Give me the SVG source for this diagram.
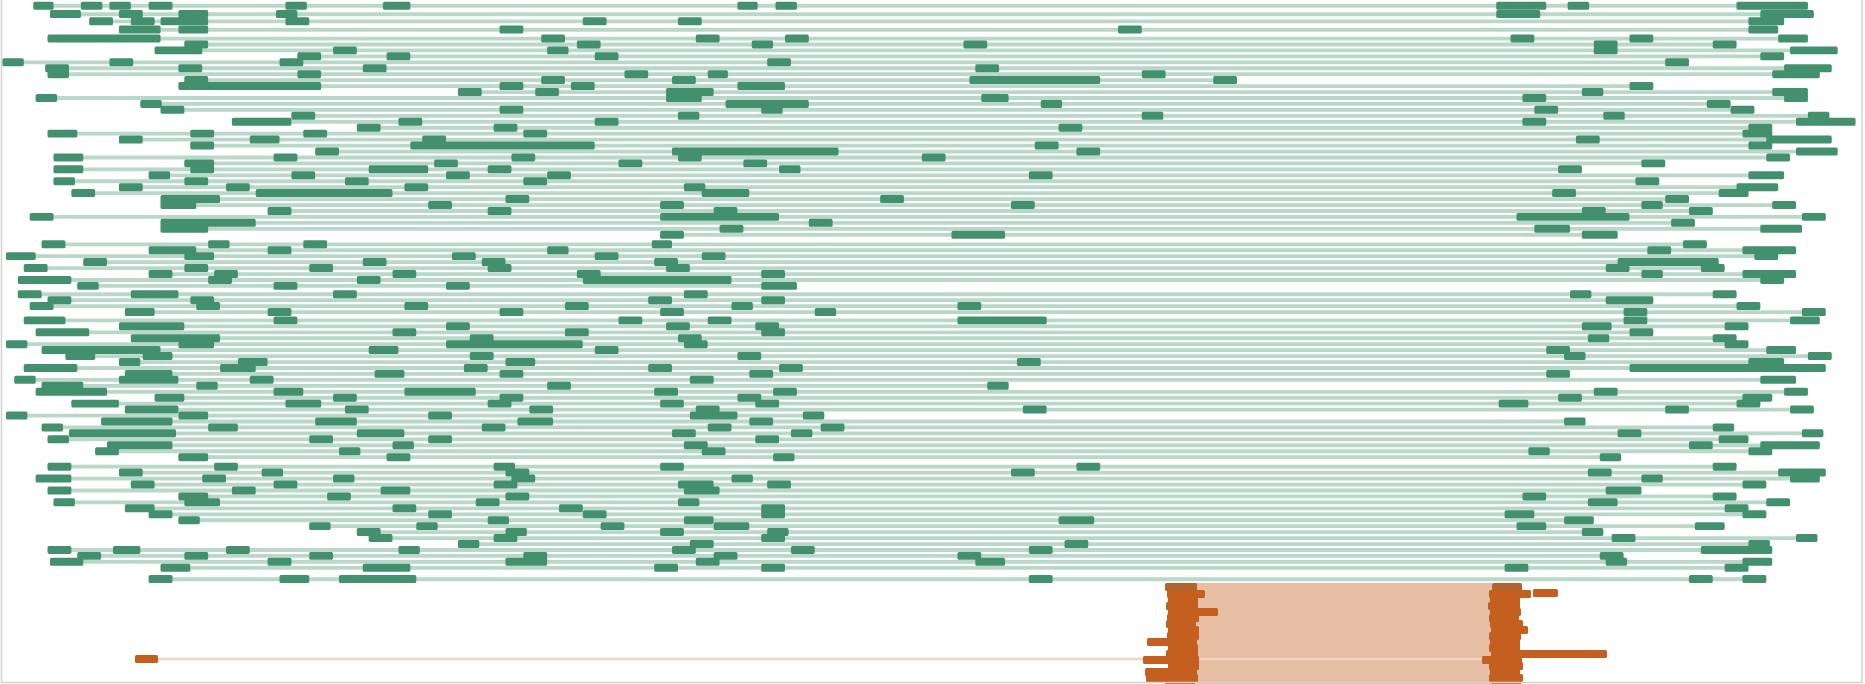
<svg xmlns="http://www.w3.org/2000/svg" width="1865" height="684" viewBox="0 0 1865 684">
<style>
.rd rect{fill:#43906e;height:6.7px;rx:1.3px}
.gl{fill:none;stroke:#bad8ca;stroke-width:3.2}
.ob rect{fill:#c45f1f;height:8px;rx:1.5px}
</style>
<rect width="1865" height="684" fill="#ffffff"/>
<g id="connectors">
<path class="gl" transform="scale(1.1894)" d="M28 4.85H1520M42 12H1525M75 18H1500M100 25H1495M40 32.4H1520M155 37.4H1460M130 42.4H1545M250 47.4H1500M2 52.4H1420M38 57.4H1540M40 62.4H1530M155 67.4H1040M150 72.4H1390M385 77.4H1520M30 82.4H1520M118 87.4H1455M135 92.4H1475M245 97.4H1538M195 102.4H1560M300 107.4H1490M40 112.4H1490M100 117.4H1540M160 122.4H1490M265 127.4H1545M45 132.4H1505M155 137.4H1400M45 142.4H1330M125 147.4H1500M45 152.4H1395M100 157.4H1495M60 162.4H1470M135 167.4H1420M135 172.4H1510M225 177.4H1440M25 182.4H1535M135 187.4H1425M135 192.4H1515M555 197.4H1360M35 205.4H1435M125 210.4H1510M5 215.4H1495M70 220.4H1445M20 225.4H1450M125 230.4H1510M15 235.4H1500M65 240.4H670M15 247.4H1460M40 252.4H1390M25 257.4H1480M105 262.4H1535M20 269.4H1530M100 274.4H1470M30 279.4H1390M110 284.4H1460M5 289.4H1470M35 294.4H1510M55 299.4H1540M100 304.4H1500M20 309.4H1535M105 314.4H1320M12 319.4H1510M35 324.4H848M30 329.4H1520M130 334.4H1490M60 339.4H1480M105 344.4H1525M5 349.4H693M85 354.4H1333M35 359.4H1458M58 364.4H1533M40 369.4H1470M90 374.4H1530M80 379.4H1490M150 384.4H1363M40 392.4H1460M100 397.4H1535M30 402.4H1530M110 407.4H1485M40 412.4H1380M150 417.4H1460M45 422.4H1505M105 427.4H1470M125 432.4H1485M150 437.4H1340M260 442.4H1450M300 447.4H1348M310 452.4H1528M385 457.4H1488M40 462.4H1490M65 467.4H1365M42 472.4H1490M135 477.4H1470M125 487H1485"/>
<rect id="junction" x="1196" y="583" width="296" height="101" fill="#e6bea3"/>
<path d="M150 659H1484" fill="none" stroke="#f1d3c0" stroke-width="2.5"/>
</g>
<g class="ob" id="orange-reads">
<rect x="135" y="655" width="23"/>
<rect x="1165" y="583" width="32" style="fill:#b0642e"/>
<rect x="1167" y="590" width="38"/>
<rect x="1168" y="596" width="30"/>
<rect x="1166" y="602" width="32"/>
<rect x="1168" y="608" width="50"/>
<rect x="1167" y="614" width="32"/>
<rect x="1166" y="620" width="30"/>
<rect x="1168" y="626" width="31"/>
<rect x="1167" y="632" width="32"/>
<rect x="1147" y="638" width="50"/>
<rect x="1168" y="644" width="30"/>
<rect x="1166" y="650" width="32"/>
<rect x="1143" y="656" width="56"/>
<rect x="1168" y="662" width="31"/>
<rect x="1145" y="668" width="52"/>
<rect x="1146" y="674" width="52"/>
<rect x="1165" y="680" width="30"/>
<rect x="1492" y="583" width="30" style="fill:#b0642e"/>
<rect x="1533" y="589" width="25"/>
<rect x="1489" y="590" width="42"/>
<rect x="1490" y="596" width="30"/>
<rect x="1488" y="602" width="32"/>
<rect x="1490" y="608" width="31"/>
<rect x="1489" y="614" width="30"/>
<rect x="1490" y="620" width="33"/>
<rect x="1491" y="626" width="37"/>
<rect x="1489" y="632" width="32"/>
<rect x="1490" y="638" width="30"/>
<rect x="1489" y="644" width="31"/>
<rect x="1491" y="650" width="116"/>
<rect x="1482" y="656" width="40"/>
<rect x="1489" y="662" width="34"/>
<rect x="1490" y="668" width="30"/>
<rect x="1489" y="674" width="34"/>
<rect x="1491" y="680" width="30"/>
</g>
<g class="rd" id="reads" transform="scale(1.1894)">
<g id="r1" transform="translate(0,1.5)"><rect x="28" width="17"/><rect x="68" width="18"/><rect x="92" width="18"/><rect x="125" width="20"/><rect x="240" width="18"/><rect x="322" width="23"/><rect x="620" width="17"/><rect x="652" width="18"/><rect x="1258" width="42"/><rect x="1318" width="18"/><rect x="1460" width="60"/></g>
<g id="r2" transform="translate(0,8.5)"><rect x="42" width="26"/><rect x="100" width="20"/><rect x="150" width="25"/><rect x="232" width="18"/><rect x="1258" width="37"/><rect x="1480" width="45"/></g>
<g id="r3" transform="translate(0,14.5)"><rect x="75" width="20"/><rect x="110" width="20"/><rect x="135" width="40"/><rect x="240" width="20"/><rect x="490" width="20"/><rect x="570" width="20"/><rect x="1470" width="30"/></g>
<g id="r4" transform="translate(0,21.5)"><rect x="100" width="35"/><rect x="150" width="25"/><rect x="420" width="20"/><rect x="940" width="20"/><rect x="1470" width="25"/></g>
<g id="r5" transform="translate(0,29)"><rect x="40" width="95"/><rect x="455" width="20"/><rect x="585" width="20"/><rect x="660" width="20"/><rect x="1270" width="20"/><rect x="1370" width="20"/><rect x="1495" width="25"/><rect y="5" x="155" width="20"/><rect y="5" x="485" width="20"/><rect y="5" x="632" width="18"/><rect y="5" x="810" width="20"/><rect y="5" x="1340" width="20"/><rect y="5" x="1440" width="20"/></g>
<g id="r6" transform="translate(0,39)"><rect x="130" width="40"/><rect x="280" width="20"/><rect x="460" width="18"/><rect x="1340" width="20"/><rect x="1505" width="40"/><rect y="5" x="250" width="20"/><rect y="5" x="325" width="20"/><rect y="5" x="500" width="20"/><rect y="5" x="1480" width="20"/></g>
<g id="r7" transform="translate(0,49)"><rect x="2" width="18"/><rect x="92" width="20"/><rect x="235" width="20"/><rect x="645" width="20"/><rect x="1400" width="20"/><rect y="5" x="38" width="20"/><rect y="5" x="150" width="20"/><rect y="5" x="305" width="20"/><rect y="5" x="820" width="20"/><rect y="5" x="1500" width="40"/></g>
<g id="r8" transform="translate(0,59)"><rect x="40" width="18"/><rect x="250" width="20"/><rect x="525" width="20"/><rect x="595" width="17"/><rect x="960" width="20"/><rect x="1490" width="40"/><rect y="5" x="155" width="20"/><rect y="5" x="455" width="20"/><rect y="5" x="565" width="20"/><rect y="5" x="815" width="110"/><rect y="5" x="1020" width="20"/></g>
<g id="r9" transform="translate(0,69)"><rect x="150" width="120"/><rect x="420" width="20"/><rect x="480" width="20"/><rect x="620" width="40"/><rect x="1370" width="20"/><rect y="5" x="385" width="20"/><rect y="5" x="450" width="20"/><rect y="5" x="560" width="40"/><rect y="5" x="1330" width="18"/><rect y="5" x="1490" width="30"/></g>
<g id="r10" transform="translate(0,79)"><rect x="30" width="18"/><rect x="560" width="30"/><rect x="825" width="23"/><rect x="1280" width="20"/><rect x="1500" width="20"/><rect y="5" x="118" width="18"/><rect y="5" x="610" width="70"/><rect y="5" x="875" width="18"/><rect y="5" x="1435" width="20"/></g>
<g id="r11" transform="translate(0,89)"><rect x="135" width="20"/><rect x="420" width="20"/><rect x="640" width="18"/><rect x="1290" width="20"/><rect x="1455" width="20"/><rect y="5" x="245" width="20"/><rect y="5" x="570" width="18"/><rect y="5" x="960" width="18"/><rect y="5" x="1348" width="18"/><rect y="5" x="1520" width="18"/></g>
<g id="r12" transform="translate(0,99)"><rect x="195" width="50"/><rect x="335" width="20"/><rect x="500" width="20"/><rect x="1280" width="20"/><rect x="1510" width="50"/><rect y="5" x="300" width="20"/><rect y="5" x="415" width="20"/><rect y="5" x="890" width="20"/><rect y="5" x="1470" width="20"/></g>
<g id="r13" transform="translate(0,109)"><rect x="40" width="25"/><rect x="160" width="20"/><rect x="255" width="20"/><rect x="440" width="20"/><rect x="1465" width="25"/><rect y="5" x="100" width="20"/><rect y="5" x="210" width="25"/><rect y="5" x="355" width="20"/><rect y="5" x="1325" width="20"/><rect y="5" x="1485" width="55"/></g>
<g id="r14" transform="translate(0,119)"><rect x="160" width="20"/><rect x="345" width="155"/><rect x="870" width="20"/><rect x="1470" width="20"/><rect y="5" x="265" width="20"/><rect y="5" x="565" width="140"/><rect y="5" x="905" width="20"/><rect y="5" x="1510" width="35"/></g>
<g id="r15" transform="translate(0,129)"><rect x="45" width="25"/><rect x="230" width="20"/><rect x="430" width="20"/><rect x="570" width="20"/><rect x="775" width="20"/><rect x="1485" width="20"/><rect y="5" x="155" width="25"/><rect y="5" x="365" width="20"/><rect y="5" x="520" width="20"/><rect y="5" x="625" width="20"/><rect y="5" x="1380" width="20"/></g>
<g id="r16" transform="translate(0,139)"><rect x="45" width="25"/><rect x="160" width="20"/><rect x="310" width="50"/><rect x="410" width="20"/><rect x="655" width="18"/><rect x="1310" width="20"/><rect y="5" x="125" width="18"/><rect y="5" x="245" width="20"/><rect y="5" x="375" width="20"/><rect y="5" x="460" width="20"/><rect y="5" x="865" width="20"/><rect y="5" x="1470" width="30"/></g>
<g id="r17" transform="translate(0,149)"><rect x="45" width="18"/><rect x="155" width="20"/><rect x="290" width="20"/><rect x="440" width="20"/><rect x="1375" width="20"/><rect y="5" x="100" width="20"/><rect y="5" x="190" width="20"/><rect y="5" x="340" width="20"/><rect y="5" x="575" width="18"/><rect y="5" x="1460" width="35"/></g>
<g id="r18" transform="translate(0,159)"><rect x="60" width="20"/><rect x="215" width="115"/><rect x="590" width="40"/><rect x="1305" width="20"/><rect x="1445" width="25"/><rect y="5" x="135" width="50"/><rect y="5" x="425" width="20"/><rect y="5" x="740" width="20"/><rect y="5" x="1400" width="20"/></g>
<g id="r19" transform="translate(0,169)"><rect x="135" width="30"/><rect x="360" width="20"/><rect x="555" width="20"/><rect x="850" width="20"/><rect x="1380" width="18"/><rect x="1490" width="20"/><rect y="5" x="225" width="20"/><rect y="5" x="410" width="20"/><rect y="5" x="600" width="20"/><rect y="5" x="1330" width="20"/><rect y="5" x="1420" width="20"/></g>
<g id="r20" transform="translate(0,179)"><rect x="25" width="20"/><rect x="555" width="100"/><rect x="1275" width="95"/><rect x="1515" width="20"/><rect y="5" x="135" width="80"/><rect y="5" x="680" width="20"/><rect y="5" x="1405" width="20"/></g>
<g id="r21" transform="translate(0,189)"><rect x="135" width="40"/><rect x="605" width="20"/><rect x="1290" width="30"/><rect x="1480" width="35"/><rect y="5" x="555" width="20"/><rect y="5" x="800" width="45"/><rect y="5" x="1330" width="30"/></g>
<g id="r22" transform="translate(0,202)"><rect x="35" width="20"/><rect x="175" width="18"/><rect x="255" width="20"/><rect x="548" width="17"/><rect x="1415" width="20"/><rect y="5" x="125" width="40"/><rect y="5" x="225" width="20"/><rect y="5" x="460" width="18"/><rect y="5" x="1385" width="20"/><rect y="5" x="1465" width="45"/></g>
<g id="r23" transform="translate(0,212)"><rect x="5" width="25"/><rect x="155" width="25"/><rect x="380" width="20"/><rect x="500" width="20"/><rect x="590" width="20"/><rect x="1475" width="20"/><rect y="5" x="70" width="20"/><rect y="5" x="305" width="20"/><rect y="5" x="405" width="20"/><rect y="5" x="550" width="20"/><rect y="5" x="1360" width="85"/></g>
<g id="r24" transform="translate(0,222)"><rect x="20" width="20"/><rect x="155" width="20"/><rect x="260" width="20"/><rect x="410" width="20"/><rect x="560" width="20"/><rect x="1350" width="20"/><rect x="1430" width="20"/><rect y="5" x="125" width="20"/><rect y="5" x="180" width="20"/><rect y="5" x="330" width="20"/><rect y="5" x="485" width="20"/><rect y="5" x="640" width="20"/><rect y="5" x="1380" width="18"/><rect y="5" x="1465" width="45"/></g>
<g id="r25" transform="translate(0,232)"><rect x="15" width="45"/><rect x="175" width="20"/><rect x="300" width="20"/><rect x="490" width="125"/><rect x="1480" width="20"/><rect y="5" x="65" width="18"/><rect y="5" x="230" width="20"/><rect y="5" x="375" width="20"/><rect y="5" x="640" width="30"/></g>
<g id="r26" transform="translate(0,244)"><rect x="15" width="20"/><rect x="110" width="40"/><rect x="280" width="20"/><rect x="575" width="20"/><rect x="1320" width="18"/><rect x="1440" width="20"/><rect y="5" x="40" width="20"/><rect y="5" x="160" width="20"/><rect y="5" x="545" width="20"/><rect y="5" x="640" width="20"/><rect y="5" x="1350" width="40"/></g>
<g id="r27" transform="translate(0,254)"><rect x="25" width="20"/><rect x="165" width="20"/><rect x="340" width="20"/><rect x="475" width="20"/><rect x="615" width="18"/><rect x="805" width="20"/><rect x="1460" width="20"/><rect y="5" x="105" width="25"/><rect y="5" x="225" width="20"/><rect y="5" x="420" width="20"/><rect y="5" x="555" width="20"/><rect y="5" x="685" width="18"/><rect y="5" x="1365" width="20"/><rect y="5" x="1515" width="20"/></g>
<g id="r28" transform="translate(0,266)"><rect x="20" width="35"/><rect x="230" width="20"/><rect x="520" width="20"/><rect x="595" width="20"/><rect x="805" width="75"/><rect x="1365" width="20"/><rect x="1505" width="25"/><rect y="5" x="100" width="55"/><rect y="5" x="375" width="20"/><rect y="5" x="560" width="20"/><rect y="5" x="635" width="20"/><rect y="5" x="1330" width="25"/><rect y="5" x="1450" width="20"/></g>
<g id="r29" transform="translate(0,276)"><rect x="30" width="45"/><rect x="330" width="20"/><rect x="475" width="20"/><rect x="640" width="20"/><rect x="1370" width="20"/><rect y="5" x="110" width="75"/><rect y="5" x="395" width="20"/><rect y="5" x="570" width="20"/><rect y="5" x="1335" width="18"/><rect y="5" x="1440" width="20"/></g>
<g id="r30" transform="translate(0,286)"><rect x="5" width="18"/><rect x="150" width="30"/><rect x="375" width="115"/><rect x="575" width="20"/><rect x="1450" width="20"/><rect y="5" x="35" width="100"/><rect y="5" x="310" width="25"/><rect y="5" x="500" width="20"/><rect y="5" x="1300" width="20"/><rect y="5" x="1485" width="25"/></g>
<g id="r31" transform="translate(0,296)"><rect x="55" width="25"/><rect x="120" width="25"/><rect x="395" width="20"/><rect x="620" width="20"/><rect x="1315" width="18"/><rect x="1520" width="20"/><rect y="5" x="100" width="18"/><rect y="5" x="200" width="25"/><rect y="5" x="425" width="25"/><rect y="5" x="855" width="20"/><rect y="5" x="1470" width="30"/></g>
<g id="r32" transform="translate(0,306)"><rect x="20" width="45"/><rect x="185" width="30"/><rect x="390" width="20"/><rect x="545" width="20"/><rect x="655" width="20"/><rect x="1370" width="165"/><rect y="5" x="105" width="40"/><rect y="5" x="315" width="25"/><rect y="5" x="420" width="20"/><rect y="5" x="630" width="20"/><rect y="5" x="1300" width="20"/></g>
<g id="r33" transform="translate(0,316)"><rect x="12" width="18"/><rect x="100" width="50"/><rect x="210" width="20"/><rect x="580" width="20"/><rect x="1480" width="30"/><rect y="5" x="35" width="35"/><rect y="5" x="165" width="18"/><rect y="5" x="460" width="20"/><rect y="5" x="830" width="18"/></g>
<g id="r34" transform="translate(0,326)"><rect x="30" width="60"/><rect x="230" width="25"/><rect x="340" width="60"/><rect x="550" width="20"/><rect x="650" width="20"/><rect x="1340" width="20"/><rect x="1500" width="20"/><rect y="5" x="130" width="25"/><rect y="5" x="280" width="20"/><rect y="5" x="420" width="20"/><rect y="5" x="620" width="20"/><rect y="5" x="1310" width="20"/><rect y="5" x="1465" width="25"/></g>
<g id="r35" transform="translate(0,336)"><rect x="60" width="40"/><rect x="240" width="30"/><rect x="410" width="20"/><rect x="555" width="20"/><rect x="635" width="20"/><rect x="1260" width="25"/><rect x="1460" width="20"/><rect y="5" x="105" width="45"/><rect y="5" x="290" width="20"/><rect y="5" x="445" width="20"/><rect y="5" x="585" width="20"/><rect y="5" x="860" width="20"/><rect y="5" x="1400" width="20"/><rect y="5" x="1505" width="20"/></g>
<g id="r36" transform="translate(0,346)"><rect x="5" width="18"/><rect x="150" width="25"/><rect x="360" width="20"/><rect x="580" width="40"/><rect x="675" width="18"/><rect y="5" x="85" width="60"/><rect y="5" x="265" width="35"/><rect y="5" x="435" width="30"/><rect y="5" x="630" width="20"/><rect y="5" x="1315" width="18"/></g>
<g id="r37" transform="translate(0,356)"><rect x="35" width="18"/><rect x="175" width="25"/><rect x="405" width="20"/><rect x="595" width="20"/><rect x="690" width="20"/><rect x="1440" width="18"/><rect y="5" x="58" width="90"/><rect y="5" x="300" width="40"/><rect y="5" x="565" width="20"/><rect y="5" x="665" width="18"/><rect y="5" x="1360" width="20"/><rect y="5" x="1515" width="18"/></g>
<g id="r38" transform="translate(0,366)"><rect x="40" width="18"/><rect x="260" width="20"/><rect x="360" width="20"/><rect x="635" width="20"/><rect x="1445" width="25"/><rect y="5" x="90" width="55"/><rect y="5" x="330" width="18"/><rect y="5" x="575" width="20"/><rect y="5" x="1420" width="20"/><rect y="5" x="1480" width="50"/></g>
<g id="r39" transform="translate(0,376)"><rect x="80" width="20"/><rect x="285" width="18"/><rect x="590" width="20"/><rect x="1285" width="18"/><rect x="1470" width="20"/><rect y="5" x="150" width="25"/><rect y="5" x="325" width="20"/><rect y="5" x="650" width="18"/><rect y="5" x="1345" width="18"/></g>
<g id="r40" transform="translate(0,389)"><rect x="40" width="20"/><rect x="180" width="20"/><rect x="415" width="18"/><rect x="555" width="20"/><rect x="905" width="20"/><rect x="1440" width="20"/><rect y="5" x="100" width="20"/><rect y="5" x="220" width="18"/><rect y="5" x="425" width="20"/><rect y="5" x="850" width="20"/><rect y="5" x="1335" width="20"/><rect y="5" x="1495" width="40"/></g>
<g id="r41" transform="translate(0,399)"><rect x="30" width="30"/><rect x="170" width="20"/><rect x="280" width="18"/><rect x="430" width="20"/><rect x="615" width="18"/><rect x="1380" width="18"/><rect x="1505" width="25"/><rect y="5" x="110" width="20"/><rect y="5" x="230" width="20"/><rect y="5" x="415" width="20"/><rect y="5" x="570" width="30"/><rect y="5" x="645" width="20"/><rect y="5" x="1465" width="20"/></g>
<g id="r42" transform="translate(0,409)"><rect x="40" width="20"/><rect x="195" width="20"/><rect x="320" width="25"/><rect x="575" width="30"/><rect x="1350" width="30"/><rect y="5" x="150" width="25"/><rect y="5" x="275" width="20"/><rect y="5" x="425" width="20"/><rect y="5" x="1280" width="20"/><rect y="5" x="1440" width="20"/></g>
<g id="r43" transform="translate(0,419)"><rect x="45" width="18"/><rect x="155" width="30"/><rect x="400" width="20"/><rect x="570" width="18"/><rect x="1335" width="25"/><rect x="1485" width="20"/><rect y="5" x="105" width="25"/><rect y="5" x="330" width="20"/><rect y="5" x="470" width="20"/><rect y="5" x="640" width="20"/><rect y="5" x="1450" width="20"/></g>
<g id="r44" transform="translate(0,429)"><rect x="125" width="20"/><rect x="360" width="20"/><rect x="490" width="20"/><rect x="640" width="20"/><rect x="1265" width="25"/><rect x="1465" width="20"/><rect y="5" x="150" width="18"/><rect y="5" x="410" width="18"/><rect y="5" x="575" width="25"/><rect y="5" x="890" width="30"/><rect y="5" x="1315" width="25"/></g>
<g id="r45" transform="translate(0,439)"><rect x="260" width="18"/><rect x="350" width="18"/><rect x="505" width="20"/><rect x="600" width="30"/><rect x="1275" width="25"/><rect x="1425" width="25"/><rect y="5" x="300" width="20"/><rect y="5" x="425" width="18"/><rect y="5" x="555" width="20"/><rect y="5" x="645" width="18"/><rect y="5" x="1330" width="18"/></g>
<g id="r46" transform="translate(0,449)"><rect x="310" width="20"/><rect x="415" width="20"/><rect x="640" width="20"/><rect x="1355" width="20"/><rect x="1510" width="18"/><rect y="5" x="385" width="18"/><rect y="5" x="580" width="20"/><rect y="5" x="895" width="20"/><rect y="5" x="1470" width="18"/></g>
<g id="r47" transform="translate(0,459)"><rect x="40" width="20"/><rect x="95" width="23"/><rect x="190" width="20"/><rect x="335" width="18"/><rect x="565" width="20"/><rect x="665" width="20"/><rect x="865" width="20"/><rect x="1430" width="60"/><rect y="5" x="65" width="20"/><rect y="5" x="155" width="20"/><rect y="5" x="260" width="20"/><rect y="5" x="440" width="20"/><rect y="5" x="600" width="20"/><rect y="5" x="805" width="20"/><rect y="5" x="1345" width="20"/></g>
<g id="r48" transform="translate(0,469)"><rect x="42" width="28"/><rect x="225" width="20"/><rect x="425" width="35"/><rect x="585" width="20"/><rect x="820" width="25"/><rect x="1350" width="18"/><rect x="1465" width="25"/><rect y="5" x="135" width="25"/><rect y="5" x="305" width="40"/><rect y="5" x="550" width="20"/><rect y="5" x="640" width="20"/><rect y="5" x="1265" width="20"/><rect y="5" x="1450" width="20"/></g>
<g id="r49" transform="translate(0,483.5)"><rect x="125" width="20"/><rect x="235" width="25"/><rect x="285" width="65"/><rect x="865" width="20"/><rect x="1420" width="20"/><rect x="1465" width="20"/></g>
</g>
<rect x="1.5" y="-5" width="1860.5" height="687.5" fill="none" stroke="#d2d2d2" stroke-width="1.5"/>
</svg>
